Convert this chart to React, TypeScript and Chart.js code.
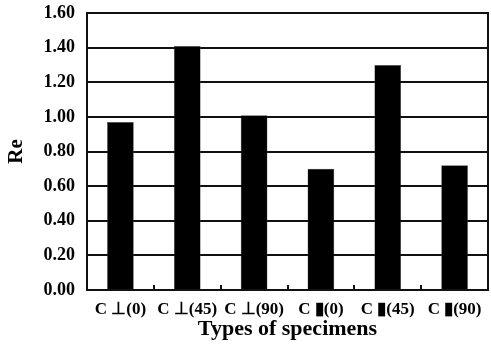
import React, { useEffect, useRef } from "react";
import { Chart, registerables } from "chart.js";

Chart.register(...registerables);

const categories = ["C \u22A5(0)", "C \u22A5(45)", "C \u22A5(90)", "C \u25AE(0)", "C \u25AE(45)", "C \u25AE(90)"];
const reValues = [0.97, 1.41, 1.01, 0.70, 1.30, 0.72];
const yTicks = [0, 0.2, 0.4, 0.6, 0.8, 1.0, 1.2, 1.4, 1.6];
const xTitle = "Types of specimens";
const yTitle = "Re";

const FONT = "'Liberation Serif', 'Times New Roman', serif";

const framePlugin = {
  id: "frame",
  afterDatasetsDraw(chart: any) {
    const { ctx, chartArea, scales } = chart;
    const xs = scales.x;
    ctx.save();
    ctx.strokeStyle = "#111";
    ctx.lineWidth = 2;
    ctx.beginPath();
    ctx.moveTo(chartArea.right, chartArea.top - 1);
    ctx.lineTo(chartArea.right, chartArea.bottom);
    for (let i = 1; i < categories.length; i++) {
      const x = Math.round((xs.getPixelForValue(i - 1) + xs.getPixelForValue(i)) / 2);
      ctx.moveTo(x, chartArea.bottom);
      ctx.lineTo(x, chartArea.bottom - 5);
    }
    ctx.stroke();
    ctx.restore();
  },
};

export default function App() {
  const ref = useRef<HTMLCanvasElement>(null);
  useEffect(() => {
    if (!ref.current) return;
    const chart = new Chart(ref.current, {
      type: "bar",
      data: {
        labels: categories,
        datasets: [
          {
            data: reValues,
            backgroundColor: "#000",
            borderColor: "#555",
            borderWidth: 0.5,
            barPercentage: 0.4,
            categoryPercentage: 1,
          },
        ],
      },
      options: {
        responsive: false,
        animation: false,
        layout: { padding: { top: 13, right: 3, left: 0, bottom: 0 } },
        plugins: { legend: { display: false }, tooltip: { enabled: false } },
        scales: {
          x: {
            grid: { display: false, drawTicks: false },
            border: { color: "#111", width: 2 },
            ticks: {
              color: "#000",
              padding: 9,
              maxRotation: 0,
              autoSkip: false,
              font: { family: FONT, size: 17, weight: "bold" },
            },
            title: {
              display: true,
              text: xTitle,
              color: "#000",
              padding: { top: 0, bottom: 8 },
              font: { family: FONT, size: 22, weight: "bold" },
            },
            afterFit(scale: any) {
              scale.height = 61;
              scale.paddingLeft = 0;
              scale.paddingRight = 0;
            },
          },
          y: {
            min: 0,
            max: 1.6,
            afterBuildTicks(scale: any) {
              scale.ticks = yTicks.map((v) => ({ value: v }));
            },
            grid: { color: "#111", lineWidth: 2, drawTicks: false },
            border: { color: "#111", width: 2 },
            ticks: {
              color: "#000",
              padding: 12,
              font: { family: FONT, size: 18, weight: "bold" },
              callback: (v: any) => Number(v).toFixed(2),
            },
            title: {
              display: true,
              text: yTitle,
              color: "#000",
              padding: { top: 4, bottom: 0 },
              font: { family: FONT, size: 21, weight: "bold" },
            },
            afterFit(scale: any) {
              scale.width = 87;
              scale.paddingTop = 0;
              scale.paddingBottom = 0;
            },
          },
        },
      },
      plugins: [framePlugin],
    });
    return () => chart.destroy();
  }, []);
  return (
    <canvas
      ref={ref}
      width={491}
      height={351}
      style={{ position: "absolute", left: 0, top: 0, display: "block" }}
    />
  );
}
